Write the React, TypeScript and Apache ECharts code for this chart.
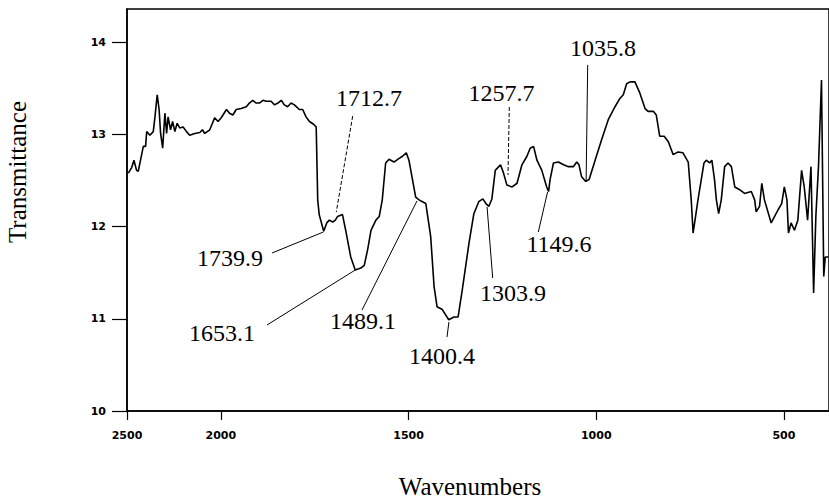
import React, { useEffect, useRef } from "react";
import * as echarts from "echarts";

// Spectrum (wavenumber in cm-1, transmittance)
const wavenumbers = [
  2493, 2475, 2463, 2449, 2440, 2422, 2413, 2401, 2395, 2378, 2360, 2351, 2339, 2329, 2321, 2310,
  2298, 2289, 2281, 2268, 2257, 2245, 2233, 2219, 2201, 2183, 2166, 2139, 2112, 2098, 2086, 2059,
  2033, 2015, 1999, 1985, 1977, 1968, 1959, 1946, 1932, 1924, 1915, 1906, 1897, 1888, 1879, 1866,
  1857, 1848, 1839, 1831, 1822, 1813, 1804, 1791, 1782, 1773, 1764, 1753, 1746, 1742, 1738, 1726,
  1718, 1711, 1702, 1695, 1689, 1676, 1667, 1654, 1642, 1627, 1618, 1609, 1600, 1587, 1578, 1570,
  1561, 1552, 1539, 1525, 1517, 1506, 1499, 1481, 1472, 1463, 1454, 1441, 1432, 1424, 1410, 1393,
  1379, 1368, 1357, 1339, 1326, 1313, 1302, 1294, 1286, 1278, 1269, 1255, 1247, 1238, 1224, 1211,
  1198, 1185, 1176, 1167, 1158, 1145, 1132, 1127, 1123, 1114, 1101, 1087, 1074, 1061, 1052, 1046,
  1039, 1028, 1019, 1003, 986, 968, 950, 937, 928, 919, 910, 897, 884, 870, 862, 848,
  840, 831, 819, 808, 795, 782, 769, 755, 747, 742, 729, 713, 707, 698, 692, 685,
  680, 674, 667, 658, 649, 640, 631, 618, 605, 587, 578, 574, 565, 559, 552, 534,
  516, 506, 499, 492, 488, 481, 472, 463, 453, 446, 437, 428, 421, 415, 408, 400,
  394, 390, 382,
];
const transmittance = [
  12.58, 12.64, 12.72, 12.61, 12.6, 12.78, 12.87, 12.87, 13.03, 12.99, 13.03, 13.19, 13.43, 13.27, 13.01, 12.85,
  13.23, 13.01, 13.19, 13.05, 13.14, 13.03, 13.12, 13.07, 13.08, 13.03, 12.99, 13.01, 13.02, 13.05, 13.01, 13.05,
  13.18, 13.14, 13.18, 13.27, 13.23, 13.21, 13.27, 13.28, 13.3, 13.34, 13.37, 13.34, 13.34, 13.37, 13.36, 13.36,
  13.32, 13.34, 13.37, 13.32, 13.3, 13.34, 13.32, 13.27, 13.27, 13.19, 13.14, 13.11, 13.08, 12.29, 12.13, 11.95,
  12.04, 12.07, 12.05, 12.07, 12.11, 12.13, 11.95, 11.67, 11.53, 11.55, 11.58, 11.75, 11.96, 12.07, 12.11, 12.29,
  12.69, 12.73, 12.7, 12.74, 12.76, 12.8, 12.72, 12.32, 12.29, 12.27, 12.25, 11.89, 11.35, 11.13, 11.1, 10.99,
  11.02, 11.02, 11.31, 11.82, 12.14, 12.27, 12.3, 12.25, 12.22, 12.3, 12.61, 12.67, 12.58, 12.45, 12.43, 12.47,
  12.67, 12.76, 12.85, 12.87, 12.72, 12.61, 12.43, 12.38, 12.51, 12.69, 12.7, 12.67, 12.65, 12.65, 12.7, 12.67,
  12.54, 12.49, 12.51, 12.72, 12.94, 13.16, 13.3, 13.39, 13.43, 13.55, 13.57, 13.57, 13.45, 13.28, 13.25, 13.25,
  13.21, 12.98, 12.98, 12.92, 12.78, 12.81, 12.8, 12.7, 12.29, 11.93, 12.29, 12.69, 12.72, 12.69, 12.72, 12.51,
  12.29, 12.14, 12.29, 12.65, 12.69, 12.65, 12.43, 12.4, 12.36, 12.38, 12.29, 12.16, 12.22, 12.47, 12.29, 12.04,
  12.18, 12.25, 12.43, 12.29, 11.93, 12.04, 11.96, 12.07, 12.61, 12.43, 12.07, 12.65, 11.28, 12.11, 12.65, 13.59,
  11.46, 11.67, 11.67,
];

const xTickValues = [2500, 2000, 1500, 1000, 500];
const yTickValues = [10, 11, 12, 13, 14];

// Peak annotations: label, and the spectrum point the leader line touches
const peakLabels = ["1712.7", "1739.9", "1653.1", "1489.1", "1400.4", "1303.9", "1149.6", "1257.7", "1035.8"];
const peakWavenumbers = [1692.5, 1727, 1642, 1477.5, 1392.5, 1290.8, 1129.7, 1235.1, 1027];
const peakTransmittance = [12.158, 11.941, 11.529, 12.278, 10.965, 12.212, 12.375, 12.56, 12.484];

// Layout of the annotation texts and leader starts (pixels)
const labelLayout = [
  { tx: 369, ty: 97.5, lx: 352.7, ly: 116, dashed: true },
  { tx: 230, ty: 258, lx: 272, ly: 253, dashed: false },
  { tx: 222, ty: 333, lx: 267, ly: 325, dashed: false },
  { tx: 363, ty: 321, lx: 362, ly: 310, dashed: false },
  { tx: 442, ty: 356, lx: 447, ly: 337, dashed: false },
  { tx: 513, ty: 292.5, lx: 492.7, ly: 278, dashed: false },
  { tx: 559, ty: 244, lx: 538.3, ly: 232, dashed: false },
  { tx: 501.5, ty: 92.5, lx: 509.3, ly: 107, dashed: true },
  { tx: 603, ty: 47.5, lx: 587.7, ly: 65, dashed: false },
];

// The scale above 2000 cm-1 is compressed by a factor of two
const toAxis = (w: number) => (w > 2000 ? 2000 + (w - 2000) / 2 : w);
const fromAxis = (u: number) => (u > 2000 ? 2000 + (u - 2000) * 2 : u);

const serif = "'Liberation Serif', 'Times New Roman', serif";
const tickFont = "'DejaVu Sans', sans-serif";

export default function App() {
  const ref = useRef<HTMLDivElement>(null);

  useEffect(() => {
    if (!ref.current) return;
    const chart = echarts.init(ref.current, null, { renderer: "svg" });
    const seriesData = wavenumbers.map((w, i) => [toAxis(w), transmittance[i]]);

    chart.setOption({
      animation: false,
      backgroundColor: "#fff",
      grid: {
        left: 127,
        top: 9,
        width: 705,
        height: 402,
        show: true,
        borderColor: "#000",
        borderWidth: 1.5,
        backgroundColor: "transparent",
      },
      xAxis: {
        type: "value",
        inverse: true,
        min: 380,
        max: 2250,
        axisLine: { show: true, lineStyle: { color: "#000", width: 1.5 } },
        axisTick: {
          show: true,
          length: 9,
          customValues: xTickValues.map(toAxis),
          lineStyle: { color: "#000", width: 1.2 },
        },
        axisLabel: {
          customValues: xTickValues.map(toAxis),
          formatter: (v: number) => String(Math.round(fromAxis(v))),
          margin: 19,
          color: "#000",
          fontFamily: tickFont,
          fontWeight: "bold",
          fontSize: 11,
        },
        splitLine: { show: false },
      },
      yAxis: {
        type: "value",
        min: 10,
        max: 14.36,
        axisLine: { show: true, lineStyle: { color: "#000", width: 1.5 } },
        axisTick: {
          show: true,
          length: 15,
          customValues: yTickValues,
          lineStyle: { color: "#000", width: 1.2 },
        },
        axisLabel: {
          customValues: yTickValues,
          margin: 21,
          color: "#000",
          fontFamily: tickFont,
          fontWeight: "bold",
          fontSize: 11,
        },
        splitLine: { show: false },
      },
      series: [
        {
          type: "line",
          data: seriesData,
          showSymbol: false,
          symbol: "none",
          silent: true,
          lineStyle: { color: "#000", width: 1.6 },
        },
      ],
    });

    const elements: any[] = [];
    peakLabels.forEach((lab, i) => {
      const p = chart.convertToPixel({ gridIndex: 0 }, [toAxis(peakWavenumbers[i]), peakTransmittance[i]]) as number[];
      const L = labelLayout[i];
      elements.push({
        type: "line",
        silent: true,
        shape: { x1: L.lx, y1: L.ly, x2: p[0], y2: p[1] },
        style: { stroke: "#000", lineWidth: 1, lineDash: L.dashed ? [4, 2] : null },
      });
      elements.push({
        type: "text",
        silent: true,
        x: L.tx,
        y: L.ty,
        style: {
          text: lab,
          fill: "#000",
          fontFamily: serif,
          fontSize: 24,
          align: "center",
          verticalAlign: "middle",
          textAlign: "center",
          textVerticalAlign: "middle",
        },
      });
    });
    elements.push({
      type: "text",
      silent: true,
      x: 17,
      y: 172,
      rotation: Math.PI / 2,
      style: {
        text: "Transmittance",
        fill: "#000",
        fontFamily: serif,
        fontSize: 25,
        align: "center",
        verticalAlign: "middle",
        textAlign: "center",
        textVerticalAlign: "middle",
      },
    });
    elements.push({
      type: "text",
      silent: true,
      x: 470,
      y: 486,
      style: {
        text: "Wavenumbers",
        fill: "#000",
        fontFamily: serif,
        fontSize: 25,
        align: "center",
        verticalAlign: "middle",
        textAlign: "center",
        textVerticalAlign: "middle",
      },
    });
    chart.setOption({ graphic: { elements } });

    return () => chart.dispose();
  }, []);

  return (
    <div
      ref={ref}
      style={{ position: "fixed", left: 0, top: 0, width: 829, height: 500, background: "#fff" }}
    />
  );
}
